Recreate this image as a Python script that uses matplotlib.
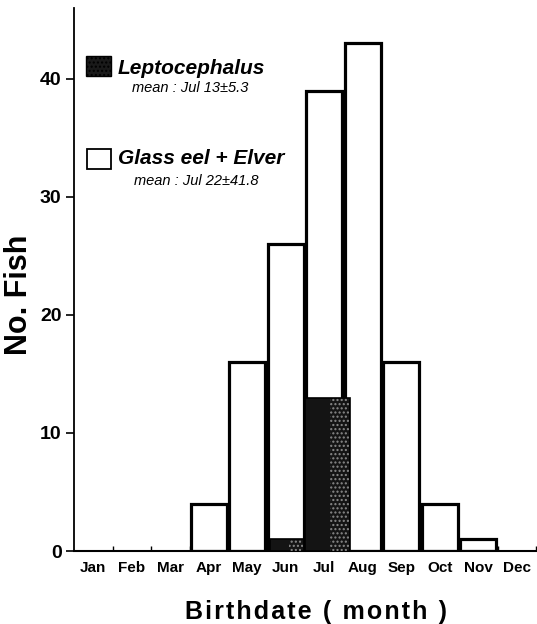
import matplotlib
matplotlib.use("Agg")
import matplotlib.pyplot as plt
from matplotlib.patches import Rectangle
import numpy as np

months = ["Jan", "Feb", "Mar", "Apr", "May", "Jun", "Jul", "Aug", "Sep", "Oct", "Nov", "Dec"]
glass_eel_elver = [0, 0, 0, 4, 16, 26, 39, 43, 16, 4, 1, 0]
lepto_months = ["Jun", "Jul"]
lepto_counts = [1, 13]
yticks = [0, 10, 20, 30, 40]
legend_labels = ["Leptocephalus", "Glass eel + Elver"]
legend_means = ["mean : Jul 13\u00b15.3", "mean : Jul 22\u00b141.8"]
xlabel = "Birthdate ( month )"
ylabel = "No. Fish"

W, H = 537, 624
fig = plt.figure(figsize=(W / 100, H / 100), dpi=100)
plt.rcParams["font.family"] = ["Liberation Sans", "DejaVu Sans"]

def fx(px):
    return px / W

def fy(py):
    return 1 - py / H

ax = fig.add_axes([fx(74), fy(551), fx(536) - fx(74), fy(8) - fy(551)])
ax.set_xlim(0, 12)
ax.set_ylim(0, 46)

x = np.arange(len(months))
for xi, v in zip(x, glass_eel_elver):
    if v > 0:
        ax.bar(xi + 0.035, v, width=0.93, align="edge", facecolor="white",
               edgecolor="black", linewidth=2.3, zorder=2)

lepto_x = [months.index(m) for m in lepto_months]
lepto_off = [0.09, -0.01]
lepto_w = [0.89, 1.18]
for xi, v, o, w in zip(lepto_x, lepto_counts, lepto_off, lepto_w):
    ax.bar(xi + o, v, width=w, align="edge", facecolor="#141414",
           edgecolor="black", linewidth=1.2, zorder=3)
    ax.bar(xi + o + w * 0.55, v, width=w * 0.42, align="edge", facecolor="none",
           edgecolor="#8a8a8a", linewidth=0, hatch="....", zorder=4)

for s in ["top", "right"]:
    ax.spines[s].set_visible(False)
ax.spines["left"].set_linewidth(1.3)
ax.spines["bottom"].set_linewidth(1.5)

ax.set_yticks(yticks)
ax.set_yticklabels([str(t) for t in yticks], fontsize=14, fontweight="bold")
ax.tick_params(axis="y", direction="out", length=6, width=1.2, pad=3)

ax.set_xticks(np.arange(1, 13))
ax.set_xticklabels([])
ax.tick_params(axis="x", which="major", direction="in", length=3.5, width=1.0)
ax.set_xticks(x + 0.5, minor=True)
ax.set_xticklabels(months, minor=True, fontsize=11, fontweight="bold")
ax.tick_params(axis="x", which="minor", length=0, pad=7)

fig.text(fx(19), fy(295), ylabel, rotation=90, ha="center", va="center",
         fontsize=22, fontweight="bold")
fig.text(fx(316), fy(612), "\u200a".join(xlabel), ha="center", va="center",
         fontsize=18, fontweight="bold")

# legend
fig.patches.append(Rectangle((fx(86), fy(76)), fx(111) - fx(86), fy(56) - fy(76),
                             transform=fig.transFigure, facecolor="#1a1a1a",
                             edgecolor="black", linewidth=1.0, hatch="....", figure=fig))
fig.patches.append(Rectangle((fx(87), fy(169)), fx(111) - fx(87), fy(149) - fy(169),
                             transform=fig.transFigure, facecolor="white",
                             edgecolor="black", linewidth=1.3, figure=fig))
fig.text(fx(118), fy(68), legend_labels[0], ha="left", va="center", fontsize=15,
         fontweight="bold", style="italic")
fig.text(fx(132), fy(88), legend_means[0], ha="left", va="center", fontsize=10.5,
         style="italic")
fig.text(fx(118), fy(159), legend_labels[1], ha="left", va="center", fontsize=15,
         fontweight="bold", style="italic")
fig.text(fx(134), fy(181), legend_means[1], ha="left", va="center", fontsize=10.5,
         style="italic")

fig.savefig("out.png", dpi=100, facecolor="white")
